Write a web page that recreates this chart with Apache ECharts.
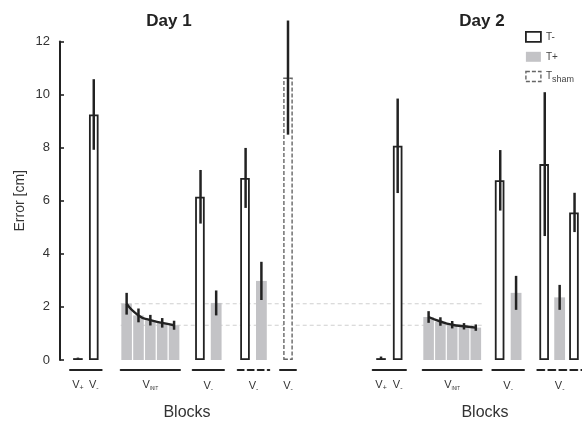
<!DOCTYPE html>
<html><head><meta charset="utf-8">
<script src="https://cdn.jsdelivr.net/npm/echarts@6/dist/echarts.min.js"></script>
<style>html,body{margin:0;padding:0;background:#fff}#c{width:582px;height:423px}</style>
</head><body><div id="c"></div>
<script>
// ---------- data ----------
const yMin = 0, yMax = 12, yStep = 2;
// Day 1
const d1VCats = ['+', '-'];
const d1VMean = [0.07, 9.25];
const d1VErr = [0.02, 1.33];
const d1VCond = ['T-', 'T-'];
const d1InitMean = [2.12, 1.68, 1.50, 1.40, 1.31];
const d1InitErr = [0.41, 0.26, 0.20, 0.18, 0.17];
const d1G3Mean = [6.15, 2.15];
const d1G3Err = [1.01, 0.47];
const d1G3Cond = ['T-', 'T+'];
const d1G4Mean = [6.86, 2.98];
const d1G4Err = [1.13, 0.72];
const d1G4Cond = ['T-', 'T+'];
const d1ShamMean = [10.64];
const d1ShamErr = [2.15];
// Day 2
const d2VCats = ['+', '-'];
const d2VMean = [0.07, 8.07];
const d2VErr = [0.06, 1.78];
const d2VCond = ['T-', 'T-'];
const d2InitMean = [1.62, 1.45, 1.33, 1.27, 1.22];
const d2InitErr = [0.22, 0.16, 0.14, 0.12, 0.12];
const d2G3Mean = [6.77, 2.53];
const d2G3Err = [1.14, 0.64];
const d2G3Cond = ['T-', 'T+'];
const d2G4Mean = [7.38, 2.36, 5.56];
const d2G4Err = [2.71, 0.47, 0.74];
const d2G4Cond = ['T-', 'T+', 'T-'];
// reference (dashed) levels: first and last V_INIT block of day 1
const refLevels = [2.12, 1.31];
const legendNames = ['T-', 'T+', 'Tsham'];

// ---------- layout / styles ----------
const FONT = '"Liberation Sans", Arial, Helvetica, sans-serif';
const INK = '#222';
const GREY = '#c3c3c6';
const gridTop = 41.5, gridBottom = 63;

const groups = [
  {x0: 70,    x1: 101.7, cats: d1VCats, mean: d1VMean, err: d1VErr, cond: d1VCond, lab: 'each'},
  {x0: 120.7, x1: 180,   cats: d1InitMean.map((_, i) => 'i' + i), mean: d1InitMean, err: d1InitErr, cond: d1InitMean.map(() => 'T+'), lab: 'init', curve: true, bw: 10.6},
  {x0: 192.7, x1: 224,   cats: ['a', 'b'], mean: d1G3Mean, err: d1G3Err, cond: d1G3Cond, lab: 'minus'},
  {x0: 237.7, x1: 269.3, cats: ['a', 'b'], mean: d1G4Mean, err: d1G4Err, cond: d1G4Cond, lab: 'minus', dashed: [6, 4]},
  {x0: 280,   x1: 296,   cats: ['a'], mean: d1ShamMean, err: d1ShamErr, cond: ['Tsham'], lab: 'minus'},
  {x0: 372.7, x1: 406,   cats: d2VCats, mean: d2VMean, err: d2VErr, cond: d2VCond, lab: 'each'},
  {x0: 422.7, x1: 481.7, cats: d2InitMean.map((_, i) => 'i' + i), mean: d2InitMean, err: d2InitErr, cond: d2InitMean.map(() => 'T+'), lab: 'init', curve: true, bw: 10.6},
  {x0: 492.3, x1: 524,   cats: ['a', 'b'], mean: d2G3Mean, err: d2G3Err, cond: d2G3Cond, lab: 'minus'},
  {x0: 537.3, x1: 582,   cats: ['a', 'b', 'c'], mean: d2G4Mean, err: d2G4Err, cond: d2G4Cond, lab: 'minus', dashed: [7, 4]}
];

const condStyle = {
  'T-':    {color: '#fff', borderColor: INK, borderWidth: 1.8},
  'T+':    {color: GREY, borderWidth: 0},
  'Tsham': {color: '#fff', borderColor: '#666', borderWidth: 1.4, borderType: [4, 2]}
};

const rich = {
  v: {fontSize: 11, color: '#333', fontFamily: FONT},
  s: {fontSize: 7, color: '#333', fontFamily: FONT, verticalAlign: 'top', padding: [7, 0, 0, 0]},
  t: {fontSize: 4.5, color: '#333', fontFamily: FONT, verticalAlign: 'top', padding: [7, 0, 0, 0]}
};

const grids = [], xAxes = [], yAxes = [], series = [];
groups.forEach((g, gi) => {
  grids.push({left: g.x0, width: g.x1 - g.x0, top: gridTop, bottom: gridBottom});
  const xa = {
    gridIndex: gi, type: 'category', data: g.cats, boundaryGap: true, offset: 10,
    axisLine: {show: true, onZero: false, lineStyle: {color: INK, width: 2, type: g.dashed || 'solid'}},
    axisTick: {show: false}, splitLine: {show: false},
    axisLabel: {show: false}
  };
  if (g.lab === 'each') {
    xa.axisLabel = {show: true, margin: 8, interval: 0, formatter: v => '{v|V}{s|' + v + '}', rich: rich};
  } else {
    xa.name = g.lab === 'init' ? '{v|V}{t|INIT}' : '{v|V}{s|-}';
    xa.nameLocation = 'middle';
    xa.nameGap = 9;
    xa.nameTextStyle = {rich: rich};
  }
  xAxes.push(xa);
  const ya = {gridIndex: gi, type: 'value', min: yMin, max: yMax, interval: yStep, show: gi === 0,
    splitLine: {show: false}};
  if (gi === 0) {
    Object.assign(ya, {
      offset: 10,
      axisLine: {show: true, lineStyle: {color: INK, width: 2}},
      axisTick: {show: true, inside: true, length: 4, lineStyle: {color: INK, width: 1.6}},
      axisLabel: {color: '#333', fontSize: 13, fontFamily: FONT, margin: 10},
      name: 'Error [cm]', nameLocation: 'middle', nameGap: 33,
      nameTextStyle: {color: '#333', fontSize: 14, fontFamily: FONT}
    });
  }
  yAxes.push(ya);

  // bars, one series per condition present
  [...new Set(g.cond)].forEach(c => {
    series.push({
      type: 'bar', name: c, xAxisIndex: gi, yAxisIndex: gi,
      barWidth: g.bw || (c === 'T+' ? 10.8 : 9.6), barGap: '-100%',
      data: g.mean.map((m, i) => g.cond[i] === c ? m : '-'),
      itemStyle: condStyle[c], z: 2, silent: true
    });
  });
  // error bars
  series.push({
    type: 'custom', xAxisIndex: gi, yAxisIndex: gi, z: 3, silent: true,
    data: g.mean.map((m, i) => [i, m - g.err[i], m + g.err[i]]),
    renderItem: (params, api) => {
      const p1 = api.coord([api.value(0), api.value(1)]);
      const p2 = api.coord([api.value(0), api.value(2)]);
      return {type: 'line', shape: {x1: p1[0], y1: p1[1], x2: p2[0], y2: p2[1]},
        style: {stroke: INK, lineWidth: 2.5}};
    }
  });
  if (g.curve) {
    series.push({
      type: 'line', xAxisIndex: gi, yAxisIndex: gi, z: 4, silent: true,
      data: g.mean, smooth: 0.6, symbol: 'none',
      lineStyle: {color: INK, width: 2.4}
    });
  }
});

// overlay grid for the dashed reference lines (from day-1 V_INIT to day-2 V_INIT)
const ri = groups.length;
grids.push({left: groups[1].x0, width: groups[6].x1 - groups[1].x0, top: gridTop, bottom: gridBottom});
xAxes.push({gridIndex: ri, type: 'value', min: 0, max: 1, show: false});
yAxes.push({gridIndex: ri, type: 'value', min: yMin, max: yMax, show: false});
refLevels.forEach(v => {
  series.push({
    type: 'line', xAxisIndex: ri, yAxisIndex: ri, z: 1, silent: true, symbol: 'none',
    data: [[0, v], [1, v]],
    lineStyle: {color: '#cfcfcf', width: 1.2, type: [4, 3]}
  });
});

const option = {
  backgroundColor: '#fff',
  animation: false,
  grid: grids, xAxis: xAxes, yAxis: yAxes, series: series,
  legend: {
    orient: 'vertical', left: 525, top: 31, padding: 0, itemWidth: 15, itemHeight: 10, itemGap: 9,
    icon: 'rect', selectedMode: false,
    data: legendNames.map(n => ({name: n, itemStyle: condStyle[n]})),
    formatter: n => n === 'Tsham' ? '{m|T}{b|sham}' : '{m|' + n + '}',
    textStyle: {color: '#444', fontSize: 10, fontFamily: FONT,
      rich: {m: {fontSize: 10, color: '#444', fontFamily: FONT},
             b: {fontSize: 9, color: '#444', fontFamily: FONT, verticalAlign: 'top', padding: [6, 0, 0, 0]}}}
  },
  graphic: [
    {type: 'text', x: 169, y: 13, style: {text: 'Day 1', align: 'center', verticalAlign: 'top', font: 'bold 17px ' + FONT, fill: '#222'}},
    {type: 'text', x: 482, y: 13, style: {text: 'Day 2', align: 'center', verticalAlign: 'top', font: 'bold 17px ' + FONT, fill: '#222'}},
    {type: 'text', x: 187, y: 405, style: {text: 'Blocks', align: 'center', verticalAlign: 'top', font: '16px ' + FONT, fill: '#333'}},
    {type: 'text', x: 485, y: 405, style: {text: 'Blocks', align: 'center', verticalAlign: 'top', font: '16px ' + FONT, fill: '#333'}}
  ]
};
const chart = echarts.init(document.getElementById('c'), null, {renderer: 'canvas'});
chart.setOption(option);
</script>
</body></html>
